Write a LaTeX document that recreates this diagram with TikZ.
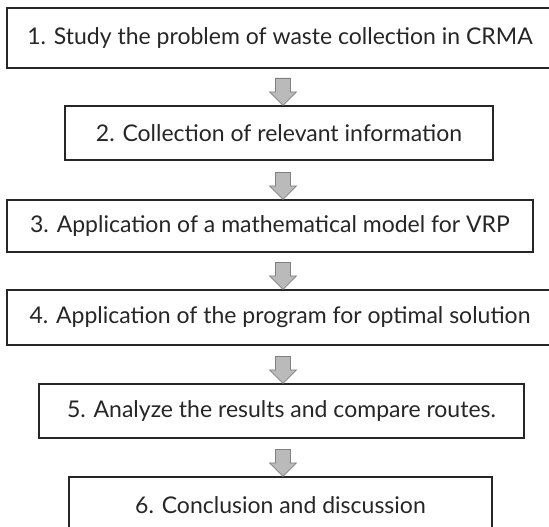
\documentclass[tikz,border=0pt]{standalone}
\usepackage{fontspec}
\setmainfont{Lato}
\begin{document}
\begin{tikzpicture}[x=1pt,y=-1pt,
  stepbox/.style={draw=black!85, line width=1.2pt, fill=white, inner sep=0pt,
    font=\fontsize{23}{27}\selectfont, text=black!85},
  blockarrow/.style={draw=black!50, fill=black!27, line width=0.8pt, line join=miter}]
  \useasboundingbox (0,0) rectangle (549,527);
  % process steps
  \node[stepbox, minimum width=546pt, minimum height=60pt] (s1) at (280,38)
    {1. Study the problem of waste collection in CRMA};
  \node[stepbox, minimum width=428pt, minimum height=54pt] (s2) at (279,133)
    {2. Collection of relevant information};
  \node[stepbox, minimum width=526pt, minimum height=52pt] (s3) at (270,226)
    {3. Application of a mathematical model for VRP};
  \node[stepbox, minimum width=546pt, minimum height=55pt] (s4) at (280,317.5)
    {4. Application of the program for optimal solution};
  \node[stepbox, minimum width=485pt, minimum height=54pt] (s5) at (281.5,411)
    {5. Analyze the results and compare routes.};
  \node[stepbox, minimum width=423pt, minimum height=56pt] (s6) at (280.5,505)
    {6. Conclusion and discussion};
  % flow arrows, tips resting on the next step
  \coordinate (col) at (283,0);
  \foreach \nxt in {s2,s3,s4,s5,s6}
    \draw[blockarrow] (\nxt.north -| col) -- ++(-13.5,-13.5) -- ++(6,0)
      -- ++(0,-13.5) -- ++(15,0) -- ++(0,13.5) -- ++(6,0) -- cycle;
\end{tikzpicture}
\end{document}
